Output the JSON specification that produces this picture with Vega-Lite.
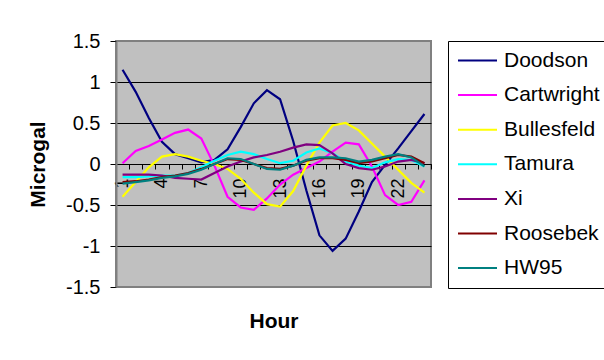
{
  "$schema": "https://vega.github.io/schema/vega-lite/v6.json",
  "width": 315,
  "height": 246,
  "autosize": {"type": "none"},
  "padding": {"left": 116, "top": 41, "right": 173, "bottom": 73},
  "background": "white",
  "data": {
    "values": [
      {"Hour": 1, "Doodson": 1.15, "Cartwright": 0.01, "Bullesfeld": -0.40, "Tamura": -0.16, "Xi": -0.13, "Roosebek": -0.22, "HW95": -0.24},
      {"Hour": 2, "Doodson": 0.88, "Cartwright": 0.16, "Bullesfeld": -0.22, "Tamura": -0.16, "Xi": -0.13, "Roosebek": -0.21, "HW95": -0.22},
      {"Hour": 3, "Doodson": 0.56, "Cartwright": 0.22, "Bullesfeld": -0.04, "Tamura": -0.15, "Xi": -0.13, "Roosebek": -0.19, "HW95": -0.20},
      {"Hour": 4, "Doodson": 0.27, "Cartwright": 0.30, "Bullesfeld": 0.09, "Tamura": -0.14, "Xi": -0.14, "Roosebek": -0.16, "HW95": -0.17},
      {"Hour": 5, "Doodson": 0.12, "Cartwright": 0.38, "Bullesfeld": 0.12, "Tamura": -0.14, "Xi": -0.17, "Roosebek": -0.14, "HW95": -0.15},
      {"Hour": 6, "Doodson": 0.07, "Cartwright": 0.42, "Bullesfeld": 0.09, "Tamura": -0.11, "Xi": -0.18, "Roosebek": -0.11, "HW95": -0.12},
      {"Hour": 7, "Doodson": 0.02, "Cartwright": 0.31, "Bullesfeld": 0.04, "Tamura": -0.04, "Xi": -0.19, "Roosebek": -0.06, "HW95": -0.07},
      {"Hour": 8, "Doodson": 0.05, "Cartwright": -0.02, "Bullesfeld": 0.00, "Tamura": 0.04, "Xi": -0.11, "Roosebek": 0.00, "HW95": 0.00},
      {"Hour": 9, "Doodson": 0.18, "Cartwright": -0.40, "Bullesfeld": -0.06, "Tamura": 0.11, "Xi": -0.03, "Roosebek": 0.06, "HW95": 0.07},
      {"Hour": 10, "Doodson": 0.45, "Cartwright": -0.53, "Bullesfeld": -0.18, "Tamura": 0.15, "Xi": 0.03, "Roosebek": 0.05, "HW95": 0.06},
      {"Hour": 11, "Doodson": 0.74, "Cartwright": -0.56, "Bullesfeld": -0.35, "Tamura": 0.12, "Xi": 0.08, "Roosebek": 0.00, "HW95": 0.00},
      {"Hour": 12, "Doodson": 0.90, "Cartwright": -0.42, "Bullesfeld": -0.49, "Tamura": 0.06, "Xi": 0.11, "Roosebek": -0.05, "HW95": -0.06},
      {"Hour": 13, "Doodson": 0.79, "Cartwright": -0.25, "Bullesfeld": -0.52, "Tamura": 0.01, "Xi": 0.15, "Roosebek": -0.06, "HW95": -0.07},
      {"Hour": 14, "Doodson": 0.28, "Cartwright": -0.13, "Bullesfeld": -0.33, "Tamura": 0.04, "Xi": 0.20, "Roosebek": -0.02, "HW95": -0.02},
      {"Hour": 15, "Doodson": -0.32, "Cartwright": -0.05, "Bullesfeld": -0.02, "Tamura": 0.14, "Xi": 0.24, "Roosebek": 0.04, "HW95": 0.05},
      {"Hour": 16, "Doodson": -0.87, "Cartwright": 0.03, "Bullesfeld": 0.26, "Tamura": 0.19, "Xi": 0.23, "Roosebek": 0.07, "HW95": 0.08},
      {"Hour": 17, "Doodson": -1.06, "Cartwright": 0.15, "Bullesfeld": 0.47, "Tamura": 0.13, "Xi": 0.13, "Roosebek": 0.07, "HW95": 0.08},
      {"Hour": 18, "Doodson": -0.91, "Cartwright": 0.26, "Bullesfeld": 0.50, "Tamura": 0.03, "Xi": 0.00, "Roosebek": 0.05, "HW95": 0.07},
      {"Hour": 19, "Doodson": -0.58, "Cartwright": 0.24, "Bullesfeld": 0.41, "Tamura": -0.02, "Xi": -0.05, "Roosebek": 0.01, "HW95": 0.03},
      {"Hour": 20, "Doodson": -0.22, "Cartwright": -0.03, "Bullesfeld": 0.25, "Tamura": -0.05, "Xi": -0.07, "Roosebek": 0.03, "HW95": 0.05},
      {"Hour": 21, "Doodson": -0.01, "Cartwright": -0.38, "Bullesfeld": 0.09, "Tamura": 0.02, "Xi": -0.03, "Roosebek": 0.07, "HW95": 0.09},
      {"Hour": 22, "Doodson": 0.19, "Cartwright": -0.50, "Bullesfeld": -0.07, "Tamura": 0.06, "Xi": 0.03, "Roosebek": 0.11, "HW95": 0.12},
      {"Hour": 23, "Doodson": 0.40, "Cartwright": -0.46, "Bullesfeld": -0.23, "Tamura": 0.05, "Xi": 0.05, "Roosebek": 0.09, "HW95": 0.08},
      {"Hour": 24, "Doodson": 0.61, "Cartwright": -0.20, "Bullesfeld": -0.35, "Tamura": -0.03, "Xi": 0.01, "Roosebek": 0.01, "HW95": -0.03}
    ]
  },
  "transform": [
    {"fold": ["Doodson", "Cartwright", "Bullesfeld", "Tamura", "Xi", "Roosebek", "HW95"], "as": ["Model", "Microgal"]}
  ],
  "mark": {"type": "line", "strokeWidth": 2.2, "clip": false},
  "encoding": {
    "x": {
      "field": "Hour",
      "type": "ordinal",
      "bandPosition": 0.5,
      "scale": {"type": "band", "paddingInner": 0, "paddingOuter": 0},
      "axis": {
        "title": "Hour",
        "offset": -123,
        "grid": false,
        "domainColor": "black",
        "domainWidth": 1,
        "tickColor": "black",
        "tickSize": 5,
        "tickBand": "extent",
        "labelAngle": 270,
        "labelAlign": "right",
        "labelBaseline": "middle",
        "labelPadding": 9,
        "labelFontSize": 18,
        "labelExpr": "(datum.value - 1) % 3 == 0 ? datum.label : ''",
        "titleFontSize": 21,
        "titleFontWeight": "bold",
        "titlePadding": 112
      }
    },
    "y": {
      "field": "Microgal",
      "type": "quantitative",
      "scale": {"domain": [-1.5, 1.5], "nice": false, "zero": false},
      "axis": {
        "title": "Microgal",
        "values": [-1.5, -1, -0.5, 0, 0.5, 1, 1.5],
        "labelExpr": "'' + datum.value",
        "domainColor": "#808080",
        "domainWidth": 2,
        "tickColor": "black",
        "tickSize": 6,
        "labelPadding": 10,
        "labelFontSize": 20,
        "titleFontSize": 21,
        "titleFontWeight": "bold",
        "titlePadding": 17,
        "grid": true,
        "gridColor": {"condition": {"test": "abs(datum.value) == 1.5", "value": "#808080"}, "value": "black"},
        "gridWidth": 1
      }
    },
    "color": {
      "field": "Model",
      "type": "nominal",
      "scale": {
        "domain": ["Doodson", "Cartwright", "Bullesfeld", "Tamura", "Xi", "Roosebek", "HW95"],
        "range": ["#000080", "#FF00FF", "#FFFF00", "#00FFFF", "#800080", "#800000", "#008080"]
      },
      "legend": {
        "title": null,
        "orient": "right",
        "offset": 17,
        "padding": 9,
        "strokeColor": "black",
        "fillColor": "white",
        "symbolType": "stroke",
        "symbolSize": 1521,
        "symbolStrokeWidth": 2,
        "clipHeight": 21,
        "rowPadding": 12.6,
        "labelOffset": 6,
        "labelFontSize": 21,
        "labelLimit": 200,
        "labelColor": "black"
      }
    }
  },
  "config": {
    "font": "Liberation Sans",
    "view": {"fill": "#C0C0C0", "stroke": "#808080", "strokeWidth": 2},
    "axis": {"labelColor": "black", "titleColor": "black", "labelFont": "Liberation Sans", "titleFont": "Liberation Sans"},
    "legend": {"labelFont": "Liberation Sans"}
  }
}
